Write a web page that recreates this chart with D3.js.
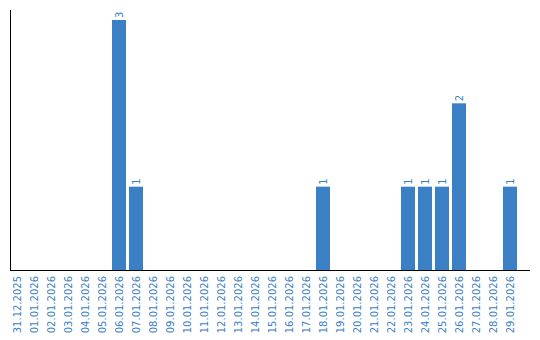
<!DOCTYPE html>
<html>
<head>
<meta charset="utf-8">
<script src="https://cdn.jsdelivr.net/npm/d3@7"></script>
<style>
  body { margin: 0; background: #fff; }
  svg { display: block; }
</style>
</head>
<body>
<div id="chart"></div>
<script>
var dates = [
  "31.12.2025", "01.01.2026", "02.01.2026", "03.01.2026", "04.01.2026",
  "05.01.2026", "06.01.2026", "07.01.2026", "08.01.2026", "09.01.2026",
  "10.01.2026", "11.01.2026", "12.01.2026", "13.01.2026", "14.01.2026",
  "15.01.2026", "16.01.2026", "17.01.2026", "18.01.2026", "19.01.2026",
  "20.01.2026", "21.01.2026", "22.01.2026", "23.01.2026", "24.01.2026",
  "25.01.2026", "26.01.2026", "27.01.2026", "28.01.2026", "29.01.2026"
];
var counts = [
  0, 0, 0, 0, 0,
  0, 3, 1, 0, 0,
  0, 0, 0, 0, 0,
  0, 0, 0, 1, 0,
  0, 0, 0, 1, 1,
  1, 2, 0, 0, 1
];

var blue = "#3b7fc4";

var svg = d3.select("#chart")
  .append("svg")
  .attr("width", 540)
  .attr("height", 340);

var x = d3.scaleBand()
  .domain(dates)
  .range([10, 517])
  .paddingInner(3 / 17)
  .paddingOuter(0);

var y = d3.scaleLinear()
  .domain([0, d3.max(counts)])
  .range([270, 20]);

var data = dates.map(function(d, i) { return { date: d, n: counts[i] }; });

// bars
svg.append("g")
  .selectAll("rect")
  .data(data.filter(function(d) { return d.n > 0; }))
  .join("rect")
  .attr("x", function(d) { return x(d.date); })
  .attr("y", function(d) { return y(d.n); })
  .attr("width", x.bandwidth())
  .attr("height", function(d) { return y(0) - y(d.n); })
  .attr("fill", blue);

// value labels
svg.append("g")
  .selectAll("text")
  .data(data.filter(function(d) { return d.n > 0; }))
  .join("text")
  .attr("transform", function(d) {
    return "translate(" + (x(d.date) + x.bandwidth() / 2) + "," + (y(d.n) - 2) + ") rotate(-90)";
  })
  .attr("dy", "0.38em")
  .attr("text-anchor", "start")
  .attr("font-family", "DejaVu Sans, sans-serif")
  .attr("font-size", 10)
  .attr("fill", blue)
  .text(function(d) { return d.n; });

// x axis (no ticks)
var axisX = d3.axisBottom(x).tickSize(0).tickPadding(0);
var gx = svg.append("g")
  .attr("transform", "translate(0,270)")
  .call(axisX);
gx.select(".domain").remove();
gx.selectAll("text")
  .attr("font-family", "DejaVu Sans, sans-serif")
  .attr("font-size", 10)
  .attr("fill", blue)
  .attr("text-anchor", "end")
  .attr("transform", "translate(0,6) rotate(-90)")
  .attr("x", 0)
  .attr("y", 0)
  .attr("dy", "0.38em");

// axis lines
svg.append("line")
  .attr("x1", 10.5).attr("x2", 10.5)
  .attr("y1", 10).attr("y2", 270)
  .attr("stroke", "#000");
svg.append("line")
  .attr("x1", 10).attr("x2", 530)
  .attr("y1", 270.5).attr("y2", 270.5)
  .attr("stroke", "#000");
</script>
</body>
</html>
